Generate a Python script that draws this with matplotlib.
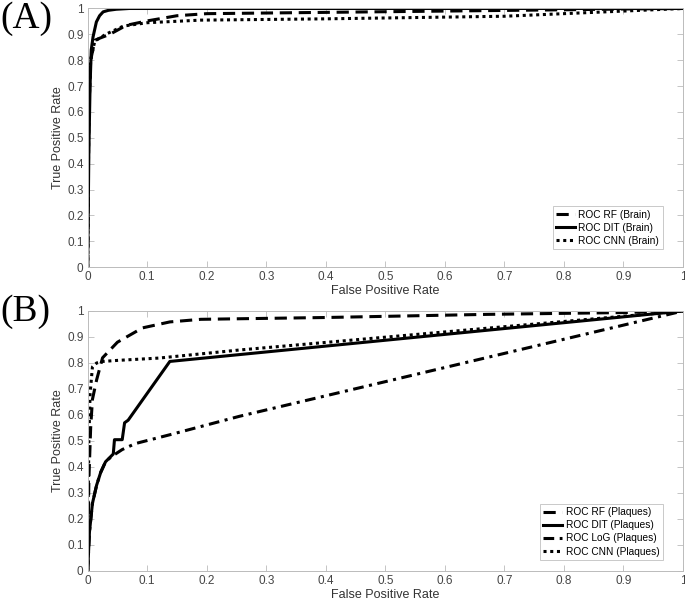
import matplotlib.pyplot as plt
import numpy as np

# Panel A (Brain)
a_rf_x = [0, 0.002, 0.005, 0.012, 0.02, 0.037, 0.065, 0.1, 0.15, 0.2, 0.4, 0.6, 0.8, 0.9, 1.0]
a_rf_y = [0, 0.6, 0.8, 0.877, 0.885, 0.9, 0.935, 0.952, 0.972, 0.98, 0.985, 0.99, 0.995, 0.998, 1.0]
a_dit_x = [0, 0.002, 0.004, 0.006, 0.009, 0.0146, 0.02, 0.026, 0.035, 0.048, 0.07, 0.1, 1.0]
a_dit_y = [0, 0.45, 0.7, 0.84, 0.89, 0.948, 0.972, 0.987, 0.993, 0.997, 1.0, 1.0, 1.0]
a_cnn_x = [0, 0.002, 0.005, 0.012, 0.02, 0.03, 0.06, 0.1, 0.19, 0.4, 0.7, 0.85, 1.0]
a_cnn_y = [0, 0.6, 0.8, 0.875, 0.885, 0.9, 0.932, 0.945, 0.955, 0.96, 0.97, 0.985, 1.0]

# Panel B (Plaques)
b_rf_x = [0, 0.002, 0.005, 0.008, 0.015, 0.025, 0.05, 0.092, 0.138, 0.19, 0.25, 0.4, 0.67, 0.9, 1.0]
b_rf_y = [0, 0.35, 0.55, 0.66, 0.735, 0.82, 0.88, 0.935, 0.958, 0.968, 0.97, 0.975, 0.987, 0.994, 1.0]
b_dit_x = [0, 0.003, 0.008, 0.015, 0.022, 0.03, 0.043, 0.045, 0.058, 0.062, 0.068, 0.138, 1.0]
b_dit_y = [0, 0.15, 0.26, 0.33, 0.38, 0.42, 0.45, 0.505, 0.505, 0.57, 0.58, 0.806, 1.0]
b_log_x = [0, 0.003, 0.008, 0.015, 0.022, 0.03, 0.04, 0.05, 0.058, 0.08, 0.138, 0.255, 1.0]
b_log_y = [0, 0.15, 0.26, 0.33, 0.38, 0.42, 0.44, 0.455, 0.467, 0.49, 0.524, 0.595, 1.0]
b_cnn_x = [0, 0.001, 0.002, 0.004, 0.008, 0.015, 0.025, 0.05, 0.12, 0.255, 1.0]
b_cnn_y = [0, 0.3, 0.5, 0.68, 0.785, 0.8, 0.806, 0.81, 0.819, 0.85, 1.0]

ticks = np.round(np.arange(0, 1.01, 0.1), 1)
tick_labels = ['0'] + [f'{t:.1f}' for t in ticks[1:-1]] + ['1']

plt.rcParams['font.family'] = ['Liberation Sans', 'DejaVu Sans']

fig = plt.figure(figsize=(6.85, 6.06), dpi=100)
ax_a = fig.add_axes([0.128, 0.559, 0.869, 0.427])
ax_b = fig.add_axes([0.128, 0.0578, 0.869, 0.429])

dash = (0, (4, 2.2))
dashdot = (0, (3.5, 1.8, 1.0, 1.8))
dot = (0, (1, 1.2))
lw = 2.2

ax_a.plot(a_rf_x, a_rf_y, color='black', lw=lw, linestyle=dash, label='ROC RF (Brain)')
ax_a.plot(a_dit_x, a_dit_y, color='black', lw=lw, linestyle='-', label='ROC DIT (Brain)')
ax_a.plot(a_cnn_x, a_cnn_y, color='black', lw=lw, linestyle=dot, label='ROC CNN (Brain)')

ax_b.plot(b_rf_x, b_rf_y, color='black', lw=lw, linestyle=dash, label='ROC RF (Plaques)')
ax_b.plot(b_dit_x, b_dit_y, color='black', lw=lw, linestyle='-', label='ROC DIT (Plaques)')
ax_b.plot(b_log_x, b_log_y, color='black', lw=lw, linestyle=dashdot, label='ROC LoG (Plaques)')
ax_b.plot(b_cnn_x, b_cnn_y, color='black', lw=lw, linestyle=dot, label='ROC CNN (Plaques)')

legend_anchor = {ax_a: (0.966, 0.07), ax_b: (0.966, 0.042)}

for ax in (ax_a, ax_b):
    ax.set_xlim(0, 1)
    ax.set_ylim(0, 1)
    ax.set_xticks(ticks)
    ax.set_xticklabels(tick_labels)
    ax.set_yticks(ticks)
    ax.set_yticklabels(tick_labels)
    ax.tick_params(direction='in', length=4, width=0.6, colors='#bbbbbb',
                   labelcolor='#444444', labelsize=8.5, top=True, right=True, pad=3)
    for s in ax.spines.values():
        s.set_color('#bbbbbb')
        s.set_linewidth(0.7)
    ax.set_xlabel('False Positive Rate', fontsize=9, color='#333333', labelpad=1)
    ax.set_ylabel('True Positive Rate', fontsize=9, color='#333333', labelpad=2)
    leg = ax.legend(loc='lower right', bbox_to_anchor=legend_anchor[ax], fontsize=7.3,
                    frameon=True, fancybox=False, handlelength=1.9, handletextpad=0.3,
                    borderpad=0.35, labelspacing=0.3, borderaxespad=0)
    leg.get_frame().set_edgecolor('#bbbbbb')
    leg.get_frame().set_linewidth(0.7)

fig.text(0.0, 0.997, '(A)', fontsize=27, family='Liberation Serif', va='top', ha='left')
fig.text(0.0, 0.515, '(B)', fontsize=27, family='Liberation Serif', va='top', ha='left')

plt.savefig('out.png', dpi=100)
